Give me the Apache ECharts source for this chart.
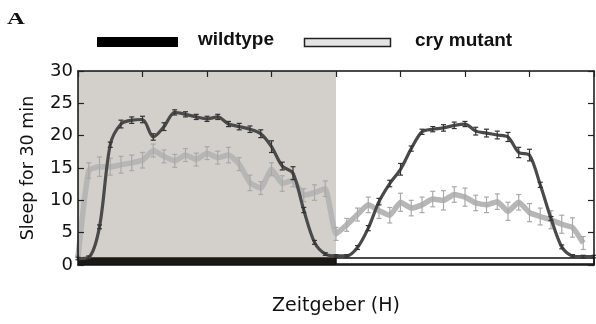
<!DOCTYPE html>
<html>
<head>
<meta charset="utf-8">
<script src="https://cdn.jsdelivr.net/npm/echarts@6.0.0/dist/echarts.min.js"></script>
<style>
html,body{margin:0;padding:0;background:#fff;}
#chart{width:596px;height:324px;}
</style>
</head>
<body>
<div id="chart"></div>
<script>
// Zeitgeber time (hours), one point per 30 min
var hours = [0,0.5,1,1.5,2,2.5,3,3.5,4,4.5,5,5.5,6,6.5,7,7.5,8,8.5,9,9.5,10,10.5,11,11.5,12,12.5,13,13.5,14,14.5,15,15.5,16,16.5,17,17.5,18,18.5,19,19.5,20,20.5,21,21.5,22,22.5,23,23.5,24];

var wildtype = [1.0,1.2,5.9,18.6,21.8,22.4,22.5,19.8,21.4,23.6,23.3,22.9,22.6,22.9,21.8,21.4,21.0,20.3,18.3,15.3,14.2,8.5,3.5,1.7,1.4,1.4,2.7,5.7,9.8,12.6,14.8,18.0,20.6,21.0,21.2,21.6,21.8,20.7,20.4,20.1,19.8,17.4,17.0,12.4,7.2,2.8,1.4,1.3,1.3];
var wildtypeErr = [0.2,0.2,0.3,0.4,0.6,0.5,0.5,0.5,0.6,0.4,0.4,0.4,0.4,0.4,0.4,0.5,0.5,0.6,0.9,0.6,1.0,0.4,0.3,0.2,0.2,0.2,0.3,0.4,0.5,0.5,0.9,0.4,0.4,0.4,0.5,0.5,0.4,0.6,0.6,0.6,0.7,0.8,0.9,0.4,0.3,0.3,0.2,0.2,0.2];

var cryMutant = [1.2,14.6,15.2,15.2,15.5,15.8,16.2,17.7,16.8,16.1,17.0,16.3,17.3,16.6,17.0,15.6,12.7,11.9,14.8,12.6,13.1,10.8,11.2,11.8,4.8,6.2,7.8,9.3,8.4,7.7,9.7,8.8,9.3,10.2,10.0,10.9,10.5,9.6,9.3,9.8,8.3,9.7,8.1,7.5,7.0,6.3,5.8,3.4];
var cryMutantErr = [0.3,1.2,1.5,1.3,1.3,1.2,1.2,1.0,1.0,1.0,1.0,1.0,1.0,1.0,1.2,1.0,1.2,1.0,1.0,1.2,1.0,1.0,1.2,1.2,1.0,1.0,1.0,1.2,1.2,1.2,1.4,1.2,1.2,1.2,1.5,1.2,1.4,1.2,1.2,1.2,1.4,1.2,1.4,1.3,1.4,1.4,1.5,1.0];

var yTicks = [0,5,10,15,20,25,30];
var lightPhase = [0, 12];   // shaded half of the day
var darkPhase = [12, 24];

function pairs(xs, ys){ return ys.map(function(v,i){ return [xs[i], v]; }); }
function triples(xs, ys, es){ return ys.map(function(v,i){ return [xs[i], v, es[i]]; }); }

function errRender(color, lw){
  return function(params, api){
    var x = api.value(0), y = api.value(1), e = api.value(2);
    var top = api.coord([x, y + e]);
    var bot = api.coord([x, y - e]);
    var hw = 2.5;
    var st = {stroke: color, lineWidth: lw};
    return {type:'group', children:[
      {type:'line', shape:{x1:top[0],y1:top[1],x2:bot[0],y2:bot[1]}, style:st},
      {type:'line', shape:{x1:top[0]-hw,y1:top[1],x2:top[0]+hw,y2:top[1]}, style:st},
      {type:'line', shape:{x1:bot[0]-hw,y1:bot[1],x2:bot[0]+hw,y2:bot[1]}, style:st}
    ]};
  };
}

var chart = echarts.init(document.getElementById('chart'), null, {renderer:'canvas'});
function axisLine(){ return {show:true, onZero:false, lineStyle:{color:'#111', width:1.5}}; }
var tick = {show:true, inside:true, length:6, lineStyle:{color:'#222',width:1.2}};
var option = {
  animation:false,
  backgroundColor:'#fff',
  grid:{left:78, right:2, top:71, bottom:59},
  xAxis:[
    {type:'value', min:0, max:24, interval:3, position:'bottom', z:10,
     axisLine:axisLine(), axisTick:{show:false}, axisLabel:{show:false}, splitLine:{show:false},
     name:'Zeitgeber (H)', nameLocation:'middle', nameGap:32,
     nameTextStyle:{fontFamily:'DejaVu Sans', fontSize:19, color:'#111', lineHeight:19}},
    {type:'value', min:0, max:24, interval:3, position:'top', z:10,
     axisLine:axisLine(), axisTick:tick,
     axisLabel:{show:false}, splitLine:{show:false}}
  ],
  yAxis:[
    {type:'value', min:yTicks[0], max:yTicks[yTicks.length-1], interval:5, position:'left', z:10,
     axisLine:axisLine(), axisTick:tick,
     axisLabel:{fontFamily:'DejaVu Sans', fontSize:18, color:'#111', margin:5},
     splitLine:{show:false},
     name:'Sleep for 30 min', nameLocation:'middle', nameGap:41,
     nameTextStyle:{fontFamily:'DejaVu Sans', fontSize:17.5, color:'#111'}},
    {type:'value', min:yTicks[0], max:yTicks[yTicks.length-1], interval:5, position:'right', z:10,
     axisLine:axisLine(), axisTick:tick,
     axisLabel:{show:false}, splitLine:{show:false}}
  ],
  graphic:[
    {type:'text', left:7, top:11, scaleX:1.45, style:{text:'A', font:'bold 17px "Liberation Serif"', fill:'#111'}},
    {type:'rect', shape:{x:97, y:37, width:81, height:10}, style:{fill:'#000'}},
    {type:'text', x:198, y:40, style:{text:'wildtype', font:'bold 19px "Liberation Sans"', fill:'#111', verticalAlign:'middle'}},
    {type:'rect', shape:{x:304.5, y:38.5, width:86, height:8}, style:{fill:'#e4e4e4', stroke:'#222', lineWidth:1.5}},
    {type:'text', x:415, y:41, style:{text:'cry mutant', font:'bold 19px "Liberation Sans"', fill:'#111', verticalAlign:'middle'}}
  ],
  series:[
    {type:'line', name:'shade', data:[], z:0, silent:true,
     markArea:{silent:true, itemStyle:{color:'#d3cfcb'},
       data:[[{xAxis:lightPhase[0]},{xAxis:lightPhase[1]}]]}},
    {type:'line', name:'cry mutant', data:pairs(hours, cryMutant), z:2, symbol:'none', smooth:0.15,
     lineStyle:{color:'#b6b6b6', width:5.5}},
    {type:'custom', name:'cry err', z:3, renderItem:errRender('#a9a9a9', 1.2),
     encode:{x:0, y:1}, data:triples(hours, cryMutant, cryMutantErr)},
    {type:'line', name:'wildtype', data:pairs(hours, wildtype), z:4, symbol:'none', smooth:0.3,
     lineStyle:{color:'#4a4a4a', width:3.2}},
    {type:'custom', name:'wt err', z:5, renderItem:errRender('#333', 1.2),
     encode:{x:0, y:1}, data:triples(hours, wildtype, wildtypeErr)},
    {type:'line', name:'bar', data:[], z:6, silent:true,
     markArea:{silent:true, data:[
       [{xAxis:lightPhase[0], yAxis:0, itemStyle:{color:'#1c1914'}},{xAxis:lightPhase[1], yAxis:1.2}],
       [{xAxis:darkPhase[0], yAxis:0.15, itemStyle:{color:'#fff', borderColor:'#111', borderWidth:1.5}},{xAxis:darkPhase[1], yAxis:1.1}]
     ]}}
  ]
};
chart.setOption(option);
</script>
</body>
</html>
